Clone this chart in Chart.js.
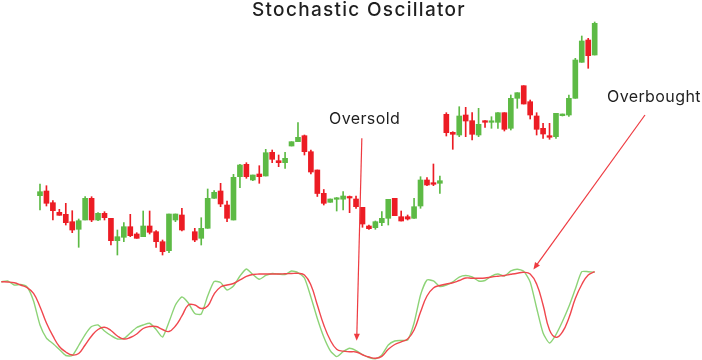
<!DOCTYPE html>
<html>
<head>
<meta charset="utf-8">
<script src="https://cdn.jsdelivr.net/npm/chart.js@4.4.1/dist/chart.umd.min.js"></script>
<style>
  body { margin: 0; background: #fff; }
  #wrap { position: relative; width: 702px; height: 360px; }
  .lbl { position: absolute; font-family: Inter, "Open Sans", sans-serif; color: #1f1f1f; white-space: nowrap; }
  #title { left: 0; width: 718px; top: 0px; text-align: center; font-size: 19px; font-weight: 500; line-height: 19px; letter-spacing: 1.3px; }
  #oversold { left: 329px; top: 110px; font-size: 16px; line-height: 16px; letter-spacing: 0.4px; }
  #overbought { left: 607px; top: 88px; font-size: 16px; line-height: 16px; letter-spacing: 0.4px; }
</style>
</head>
<body>
<div id="wrap">
  <canvas id="myChart" width="702" height="360"></canvas>
  <div class="lbl" id="title">Stochastic Oscillator</div>
  <div class="lbl" id="oversold">Oversold</div>
  <div class="lbl" id="overbought">Overbought</div>
</div>
<script>
// candles, one per bar index (index 23 is an empty slot)
var open = [164.3, 169, 157.3, 147.7, 145.7, 138.3, 130.7, 140, 161.7, 140,
  146.7, 141.7, 119.3, 122.7, 133.3, 126, 123.3, 134, 128.3, 118.3,
  109.3, 140, 145, null, 128.3, 121.7, 131.7, 161.7, 169, 155,
  140, 183.3, 195.7, 180, 186, 184, 207.7, 199.3, 197.3, 214,
  218.3, 224.3, 208.3, 190, 166.7, 157.7, 160.7, 160.8, 163.3, 161,
  152.7, 134, 132.3, 137.3, 141.7, 161.7, 143.3, 143.3, 141.7, 154,
  180, 177.3, 176.7, 245.7, 227.7, 225, 245, 239.3, 225, 239.3,
  237.7, 237.7, 247.3, 231.7, 261.7, 274.3, 258.3, 244, 231.7, 224.3,
  223.3, 244.3, 245, 261.7, 297.7, 320, 305];
var high = [176, 174.3, 159.3, 150.7, 156.7, 149.3, 141, 163.3, 163.3, 147.3,
  148.3, 141.7, 130, 137.3, 145.7, 127.3, 149, 149, 129.3, 120,
  146, 146, 151.7, null, 131.7, 142.3, 171, 169.3, 176.7, 159,
  185.7, 195.7, 197.3, 185, 194.3, 210.7, 210, 205, 207.7, 218.3,
  237.3, 225, 210, 190, 170.5, 161, 162.5, 168.3, 164, 164,
  152.7, 135, 139, 148.3, 160.7, 161.7, 149, 145, 161.7, 183.3,
  182.3, 196, 184, 247.3, 228.3, 253.3, 252.7, 247.3, 251.7, 239.3,
  243.3, 247.3, 247.3, 265, 267.3, 274.3, 260, 247.3, 236.7, 236.7,
  246.7, 246, 265, 301.7, 324, 321.7, 338];
var low = [150, 154, 140, 144.7, 135, 127.3, 112.7, 140, 138.3, 139.3,
  140, 115, 105, 118.3, 123.3, 121.7, 123.3, 126, 112.7, 105,
  107.3, 138.3, 129, null, 118.3, 115, 131.7, 161.7, 153.3, 138.3,
  140, 172.3, 181.7, 179.3, 176.7, 184, 197.3, 193.3, 191.7, 214,
  218.3, 205, 186, 163.5, 155, 157.7, 149, 150, 147.3, 151.7,
  132.7, 130.7, 130.7, 134.3, 135, 144.3, 139, 140, 141.7, 151.7,
  174.3, 174.3, 166.7, 224, 210.7, 223.3, 223.3, 220, 223.3, 232.7,
  231.7, 231.7, 229, 230, 251.7, 256, 241, 225, 221.7, 220.7,
  221.7, 244, 243.5, 261.7, 297.7, 291.7, 305];
var close = [168.3, 156.7, 149.3, 144.7, 137.3, 130, 139.3, 161.7, 140, 146.7,
  142.3, 119.3, 123.3, 133.3, 124.3, 121.7, 134, 127.7, 118.3, 108.3,
  146, 146, 130, null, 120, 131.7, 161.7, 167.7, 156, 141.7,
  182.7, 195, 183.3, 185, 183.3, 207.3, 200.7, 197.3, 201.7, 218.3,
  222.7, 208.3, 188, 166.5, 156.7, 161, 161.7, 164, 162, 153.3,
  136, 131.3, 138.3, 141.7, 160.7, 144.3, 139, 141, 153.3, 180,
  175, 175.7, 179.3, 227.3, 225.7, 244, 239, 225.7, 235.7, 237.7,
  239, 247.3, 230.7, 261.7, 267.3, 256, 245, 230.7, 226, 222.7,
  246.7, 246, 261.7, 300, 319, 304.3, 336.7];

// stochastic lines, first point sits 6 bars left of the first candle
var oscStart = -6;
var kLine = [85.9, 86.7, 82.2, 82.8, 80, 64.4,
  37.8, 23.3, 17.2, 10.6, 3.9, 3.9, 15, 27.2, 36.1, 37.8,
  31.1, 26.1, 22.2, 22.8, 28.9, 35, 37.8, 39.7, 32.8, 24.4,
  41.1, 60, 68.9, 62.2, 50.6, 50, 70, 86.1, 85, 76.7,
  81.1, 92.2, 100, 93.9, 88.6, 92.8, 95, 94.4, 93.9, 97.8,
  96.1, 90, 68.9, 45, 24.4, 9.4, 2.6, 8.1, 11.9, 9.4,
  5, 1.7, 0.2, 4.4, 15.6, 20, 20.6, 21.1, 40, 71.1,
  87.8, 86.7, 80.6, 82.2, 85.6, 91.1, 92.8, 91.1, 86.7, 87.2,
  92.2, 94.4, 92.2, 97.8, 99.8, 97.4, 85.6, 56.7, 28.9, 17.8,
  27.2, 41.7, 58.3, 77.8, 97, 97, 96.4];
var dLine = [85.9, 85.6, 84.7, 82.2, 79.4, 72.8,
  58.1, 40, 25.6, 13.9, 7.8, 4.4, 6.1, 15.6, 25.6, 32.8,
  35.2, 31.7, 25.6, 22.2, 23.9, 27.8, 33.9, 36.1, 36.1, 32.8,
  30.6, 36.7, 47.8, 60, 60, 56.1, 58.9, 72.2, 80, 82.2,
  83.9, 87.8, 91.7, 93.9, 94.4, 94.4, 94.4, 94.4, 94.7, 95,
  95.2, 93.3, 82.2, 60, 37.8, 21.1, 10.8, 8.7, 8.1, 7.8,
  4.7, 2.2, 0.8, 3, 10.8, 16.1, 19.1, 22.2, 32.2, 52.2,
  70, 78.9, 81.7, 83.3, 84.7, 87.2, 90, 89.7, 89.7, 90,
  91.1, 92, 92.8, 94.1, 95.3, 96.3, 94.4, 83.3, 60, 32.2,
  24.1, 30, 45.6, 67.2, 82.8, 93.3, 97];

// arrows: [x bar, y value, axis] for start and tip
var arrows = [
  { from: [49.9, 221.7, "price"], to: [49.1, 20.3, "osc"] },
  { from: [93.8, 245, "price"], to: [76.5, 99.5, "osc"] }
];

var upColor = "#5dba45";
var downColor = "#ec1c24";

var wickData = [];
var bodyData = [];
var bodyColors = [];
for (var i = 0; i < open.length; i++) {
  if (open[i] === null) continue;
  wickData.push({ x: i, y: [low[i], high[i]] });
  bodyData.push({ x: i, y: [open[i], close[i]] });
  bodyColors.push(close[i] >= open[i] ? upColor : downColor);
}
var kData = kLine.map(function (v, j) { return { x: oscStart + j, y: v }; });
var dData = dLine.map(function (v, j) { return { x: oscStart + j, y: v }; });

var arrowPlugin = {
  id: "arrows",
  afterDatasetsDraw: function (chart) {
    var c = chart.ctx;
    var sx = chart.scales.x;
    c.save();
    c.strokeStyle = "#ee3a40";
    c.fillStyle = "#ee3a40";
    c.lineWidth = 1.2;
    arrows.forEach(function (a) {
      var x1 = sx.getPixelForValue(a.from[0]);
      var y1 = chart.scales[a.from[2]].getPixelForValue(a.from[1]);
      var x2 = sx.getPixelForValue(a.to[0]);
      var y2 = chart.scales[a.to[2]].getPixelForValue(a.to[1]);
      var ang = Math.atan2(y2 - y1, x2 - x1);
      c.beginPath();
      c.moveTo(x1, y1);
      c.lineTo(x2 - 5 * Math.cos(ang), y2 - 5 * Math.sin(ang));
      c.stroke();
      c.beginPath();
      c.moveTo(x2, y2);
      c.lineTo(x2 - 7 * Math.cos(ang) + 3 * Math.sin(ang), y2 - 7 * Math.sin(ang) - 3 * Math.cos(ang));
      c.lineTo(x2 - 7 * Math.cos(ang) - 3 * Math.sin(ang), y2 - 7 * Math.sin(ang) + 3 * Math.cos(ang));
      c.closePath();
      c.fill();
    });
    c.restore();
  }
};

var ctx = document.getElementById("myChart").getContext("2d");
var myChart = new Chart(ctx, {
  type: "bar",
  data: {
    datasets: [
      {
        type: "line",
        label: "%D",
        data: dData,
        yAxisID: "osc",
        borderColor: "#f0474e",
        borderWidth: 1.4,
        pointRadius: 0,
        tension: 0.45,
        order: 0,
      },
      {
        type: "line",
        label: "%K",
        data: kData,
        yAxisID: "osc",
        borderColor: "#8dd377",
        borderWidth: 1.4,
        pointRadius: 0,
        tension: 0.2,
        order: 1,
      },
      {
        label: "Body",
        data: bodyData,
        yAxisID: "price",
        backgroundColor: bodyColors,
        barThickness: 5,
        minBarLength: 1.5,
        grouped: false,
        order: 2,
      },
      {
        label: "Wick",
        data: wickData,
        yAxisID: "price",
        backgroundColor: bodyColors,
        barThickness: 1,
        grouped: false,
        order: 3,
      },
    ],
  },
  options: {
    responsive: false,
    animation: false,
    layout: { padding: 0 },
    plugins: {
      legend: { display: false },
      tooltip: { enabled: false },
    },
    scales: {
      x: {
        type: "linear",
        display: false,
        offset: false,
        min: -6.2,
        max: 102.64,
      },
      price: {
        type: "linear",
        position: "left",
        display: false,
        min: 0,
        max: 360,
      },
      osc: {
        type: "linear",
        position: "right",
        display: false,
        min: -1.11,
        max: 398.9,
      },
    },
  },
  plugins: [arrowPlugin],
});
</script>
</body>
</html>
